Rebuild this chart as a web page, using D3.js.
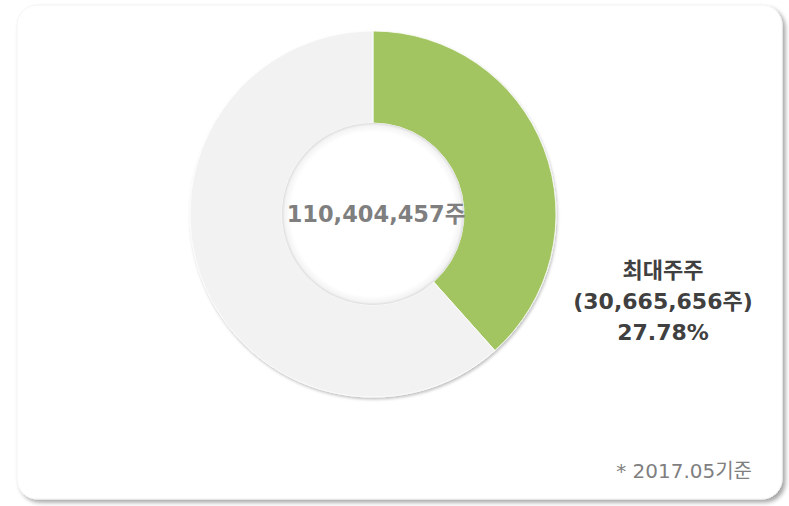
<!DOCTYPE html>
<html><head><meta charset="utf-8">
<script src="https://cdn.jsdelivr.net/npm/d3@7"></script>
<style>html,body{margin:0;padding:0;background:#fff;}</style>
</head><body>
<svg id="c" width="789" height="506"></svg>
<script>
// Data (slice sizes as drawn)
const categories = ["최대주주", "기타"];
const sliceValues = [38.4, 61.6];
const totalLabel = "110,404,457주";
const labelLines = ["최대주주", "(30,665,656주)", "27.78%"];
const footnote = "* 2017.05기준";

const FONT = "'DejaVu Sans','Noto Sans CJK KR',sans-serif";
const svg = d3.select("#c");
const defs = svg.append("defs");
const f = defs.append("filter").attr("id","cardShadow").attr("x","-5%").attr("y","-5%").attr("width","112%").attr("height","115%");
f.append("feDropShadow").attr("dx",3).attr("dy",3).attr("stdDeviation",2).attr("flood-color","#000").attr("flood-opacity",0.35);
const f2 = defs.append("filter").attr("id","pieShadow").attr("x","-10%").attr("y","-10%").attr("width","120%").attr("height","125%");
f2.append("feDropShadow").attr("dx",1).attr("dy",2).attr("stdDeviation",1.5).attr("flood-color","#000").attr("flood-opacity",0.25);

// card
svg.append("rect").attr("x",17).attr("y",5).attr("width",765).attr("height",494)
  .attr("rx",20).attr("ry",20).attr("fill","#fff").attr("stroke","#f3f3f3").attr("stroke-width",1)
  .attr("filter","url(#cardShadow)");

const cx = 373, cy = 214, R = 183, r = 91;
const color = d3.scaleOrdinal().domain(categories).range(["#a2c562", "#f2f2f2"]);
const pie = d3.pie().sort(null).value(d => d.v);
const arc = d3.arc().innerRadius(r).outerRadius(R);
const data = categories.map((c,i) => ({c, v: sliceValues[i]}));

const g = svg.append("g").attr("transform", `translate(${cx},${cy})`);
g.append("g").attr("filter","url(#pieShadow)")
  .selectAll("path").data(pie(data)).join("path")
  .attr("d", arc).attr("fill", d => color(d.data.c))
  .attr("stroke","#fff").attr("stroke-width",0.8);

// inner hole shading ring
const ringGrad = defs.append("radialGradient").attr("id","hole").attr("cx","50%").attr("cy","50%").attr("r","50%");
ringGrad.append("stop").attr("offset","90%").attr("stop-color","#fff");
ringGrad.append("stop").attr("offset","97%").attr("stop-color","#f4f4f4");
ringGrad.append("stop").attr("offset","100%").attr("stop-color","#dcdcdc");
g.append("circle").attr("r", r).attr("fill","url(#hole)");

g.append("text").attr("x",3).attr("y",8).attr("text-anchor","middle")
  .attr("font-family",FONT).attr("font-weight",700)
  .attr("font-size",22.5).attr("fill","#7f7f7f").text(totalLabel);

const lab = svg.append("g").attr("transform","translate(663,0)");
lab.selectAll("text").data(labelLines).join("text")
  .attr("x",0).attr("y",(d,i)=>278 + i*31).attr("text-anchor","middle")
  .attr("font-family",FONT).attr("font-weight",700)
  .attr("font-size",22).attr("fill","#404040").text(d=>d);

svg.append("text").attr("x",752).attr("y",478).attr("text-anchor","end")
  .attr("font-family",FONT)
  .attr("font-size",20).attr("fill","#7f7f7f").text(footnote);
</script>
</body></html>
